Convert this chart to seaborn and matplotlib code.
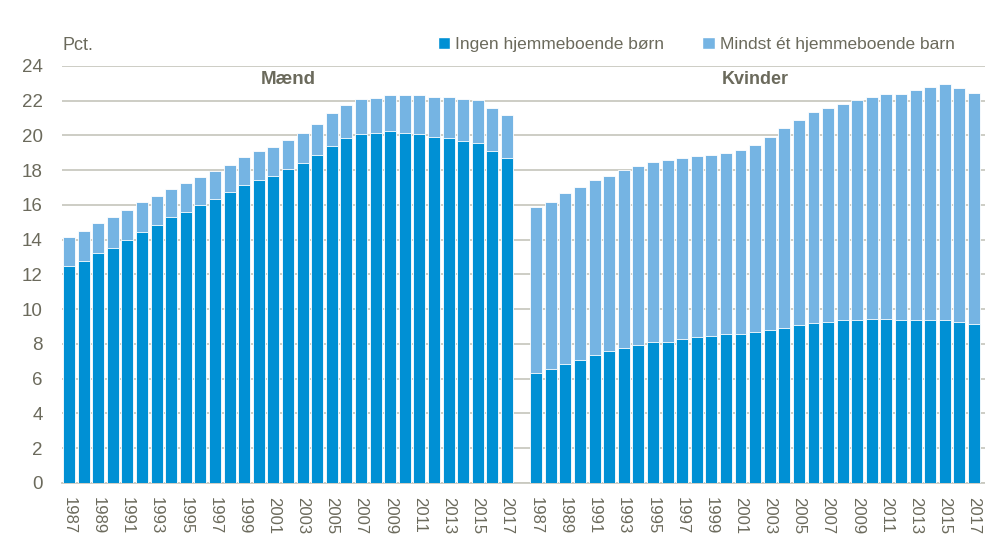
import matplotlib
matplotlib.use('Agg')
import matplotlib.pyplot as plt
from matplotlib.patches import Patch
import pandas as pd
import seaborn as sns

# Data (pct.)
years = list(range(1987, 2018))

maend_total = [14.16, 14.51, 14.97, 15.31, 15.72, 16.18, 16.54, 16.91, 17.25, 17.60,
               17.98, 18.32, 18.77, 19.09, 19.34, 19.74, 20.15, 20.64, 21.28, 21.78,
               22.08, 22.18, 22.33, 22.31, 22.31, 22.22, 22.24, 22.12, 22.04, 21.58, 21.18]
maend_ingen = [12.46, 12.80, 13.24, 13.55, 13.99, 14.47, 14.87, 15.28, 15.62, 16.00,
               16.37, 16.77, 17.17, 17.46, 17.69, 18.09, 18.44, 18.86, 19.42, 19.88,
               20.11, 20.17, 20.28, 20.17, 20.11, 19.93, 19.88, 19.70, 19.59, 19.13, 18.69]

kvinder_total = [15.87, 16.18, 16.69, 17.04, 17.42, 17.69, 18.00, 18.27, 18.48, 18.57,
                 18.73, 18.84, 18.88, 19.01, 19.15, 19.47, 19.90, 20.43, 20.91, 21.33,
                 21.58, 21.79, 22.04, 22.24, 22.39, 22.41, 22.62, 22.81, 22.95, 22.72, 22.45]
kvinder_ingen = [6.33, 6.56, 6.85, 7.08, 7.37, 7.62, 7.77, 7.96, 8.12, 8.12,
                 8.27, 8.40, 8.46, 8.58, 8.58, 8.69, 8.81, 8.92, 9.10, 9.19,
                 9.29, 9.35, 9.38, 9.42, 9.42, 9.35, 9.35, 9.37, 9.37, 9.27, 9.15]

groups = ['Mænd', 'Kvinder']
legend_labels = ['Ingen hjemmeboende børn', 'Mindst ét hjemmeboende barn']

dark = '#0090D4'
light = '#75B4E3'
txt = '#6B6A5C'
grid = '#C9C9C0'

# one empty slot between the two groups
n = len(years)
pos_m = list(range(n))
pos_k = [p + n + 1 for p in pos_m]

df = pd.DataFrame({
    'pos': pos_m + pos_k,
    'total': maend_total + kvinder_total,
    'ingen': maend_ingen + kvinder_ingen,
})

sns.set_style('white')
plt.rcParams['font.family'] = ['Liberation Sans', 'DejaVu Sans']

fig = plt.figure(figsize=(9.85, 5.39), dpi=100)
ax = fig.add_axes([0.063, 0.104, 0.937, 0.7736])

sns.barplot(data=df, x='pos', y='total', native_scale=True, color=light, saturation=1,
            width=0.82, errorbar=None, edgecolor='white', linewidth=0.6, ax=ax, zorder=3)
sns.barplot(data=df, x='pos', y='ingen', native_scale=True, color=dark, saturation=1,
            width=0.82, errorbar=None, edgecolor='white', linewidth=0.6, ax=ax, zorder=4)

ax.set_xlim(-0.48, 62.75)
ax.set_ylim(0, 24)
ax.set_yticks(range(0, 25, 2))
ax.yaxis.grid(True, color=grid, linewidth=1.3)
ax.set_axisbelow(True)
for s in ['left', 'right', 'top']:
    ax.spines[s].set_visible(False)
ax.spines['bottom'].set_color(grid)
ax.spines['bottom'].set_linewidth(1.3)

tick_pos = pos_m[::2] + pos_k[::2]
tick_lab = [str(y) for y in years[::2]] * 2
ax.set_xticks(tick_pos)
ax.set_xticklabels(tick_lab, rotation=-90, fontsize=12, color=txt)
ax.tick_params(axis='x', length=0, pad=10)
ax.tick_params(axis='y', length=0, pad=14, labelsize=13.5, labelcolor=txt)
ax.set_xlabel('')
ax.set_ylabel('')

ax.text((pos_m[0] + pos_m[-1]) / 2, 23.2, groups[0], ha='center', va='center',
        fontsize=13.5, fontweight='bold', color=txt)
ax.text((pos_k[0] + pos_k[-1]) / 2, 23.2, groups[1], ha='center', va='center',
        fontsize=13, fontweight='bold', color=txt)

fig.text(0.063, 0.915, 'Pct.', fontsize=13, color=txt, va='center', ha='left')

handles = [Patch(facecolor=dark), Patch(facecolor=light)]
fig.legend(handles, legend_labels, loc='center right', bbox_to_anchor=(0.985, 0.917),
           ncol=2, frameon=False, fontsize=12.5, labelcolor=txt,
           handlelength=0.7, handleheight=0.7, handletextpad=0.3, columnspacing=2.2)

fig.savefig('out.png', dpi=100)
